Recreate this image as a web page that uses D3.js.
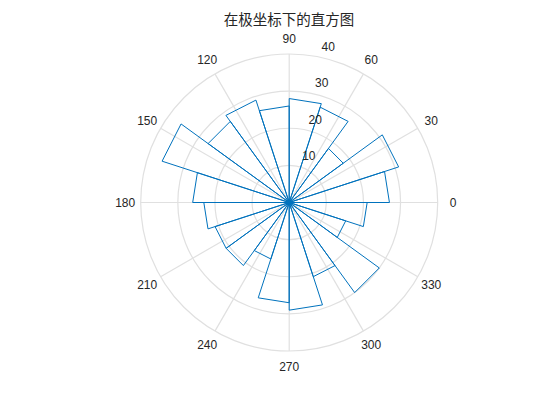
<!DOCTYPE html>
<html>
<head>
<meta charset="utf-8">
<script src="https://cdn.jsdelivr.net/npm/d3@7/dist/d3.min.js"></script>
<style>
  html, body { margin: 0; padding: 0; background: #ffffff; }
  svg { display: block; }
</style>
</head>
<body>
<svg id="chart" width="560" height="420"></svg>
<script>
// ---- data ----
const title = "在极坐标下的直方图";
const binCounts = [27, 31, 18, 27, 28, 26, 29, 27, 36, 26, 23, 21, 21, 16, 27, 29, 21, 30, 16, 21];
const binWidthDeg = 18;
const thetaTicks = [0, 30, 60, 90, 120, 150, 180, 210, 240, 270, 300, 330];
const thetaTickLabels = ["0", "30", "60", "90", "120", "150", "180", "210", "240", "270", "300", "330"];
const rTicks = [10, 20, 30, 40];
const rTickLabels = ["10", "20", "30", "40"];
const rMax = 40;

// ---- layout ----
const W = 560, H = 420;
const cx = 289.2, cy = 202.5, R = 148.5;
const textColor = "#262626";
const gridColor = "#e0e0e0";
const barColor = "#0072BD";

const svg = d3.select("#chart");
const rScale = d3.scaleLinear().domain([0, rMax]).range([0, R]);
const toRad = d => d * Math.PI / 180;
const px = (r, deg) => cx + r * Math.cos(toRad(deg));
const py = (r, deg) => cy - r * Math.sin(toRad(deg));

const g = svg.append("g");

// grid circles
g.selectAll("circle.grid").data(rTicks).enter().append("circle")
  .attr("class", "grid")
  .attr("cx", cx).attr("cy", cy)
  .attr("r", d => rScale(d))
  .attr("fill", "none")
  .attr("stroke", gridColor)
  .attr("stroke-width", 1.2);

// spokes
g.selectAll("line.spoke").data(thetaTicks).enter().append("line")
  .attr("class", "spoke")
  .attr("x1", cx).attr("y1", cy)
  .attr("x2", d => px(R, d)).attr("y2", d => py(R, d))
  .attr("stroke", gridColor)
  .attr("stroke-width", 1.2);

// histogram bars (stairs style)
const bins = binCounts.map((c, i) => ({ c, a0: i * binWidthDeg, a1: (i + 1) * binWidthDeg }));
g.selectAll("path.bar").data(bins).enter().append("path")
  .attr("class", "bar")
  .attr("d", d => {
    const r = rScale(d.c);
    return `M${cx},${cy}L${px(r, d.a0)},${py(r, d.a0)}L${px(r, d.a1)},${py(r, d.a1)}Z`;
  })
  .attr("fill", "none")
  .attr("stroke", barColor)
  .attr("stroke-width", 1)
  .attr("stroke-linejoin", "miter");

// center blob
g.append("circle").attr("cx", cx).attr("cy", cy).attr("r", 2.5).attr("fill", barColor);

// theta labels
const labelR = R + 15.5;
g.selectAll("text.theta").data(thetaTicks).enter().append("text")
  .attr("class", "theta")
  .attr("x", d => px(labelR, d))
  .attr("y", d => py(labelR, d))
  .attr("text-anchor", "middle")
  .attr("dominant-baseline", "central")
  .attr("font-family", "Liberation Sans, Arial, Helvetica, sans-serif")
  .attr("font-size", 12)
  .attr("fill", textColor)
  .text((d, i) => thetaTickLabels[i]);

// r labels at 80 degrees
const rAxisAngle = 80;
g.selectAll("text.rtick").data(rTicks).enter().append("text")
  .attr("class", "rtick")
  .attr("x", d => px(rScale(d), rAxisAngle) + 6.5)
  .attr("y", d => py(rScale(d), rAxisAngle) - 9.5)
  .attr("text-anchor", "start")
  .attr("dominant-baseline", "central")
  .attr("font-family", "Liberation Sans, Arial, Helvetica, sans-serif")
  .attr("font-size", 12)
  .attr("fill", textColor)
  .text((d, i) => rTickLabels[i]);

// title
svg.append("text")
  .attr("x", 289)
  .attr("y", 18.5)
  .attr("text-anchor", "middle")
  .attr("dominant-baseline", "central")
  .attr("font-family", "Noto Sans CJK SC, sans-serif")
  .attr("font-size", 14.5)
  .attr("fill", textColor)
  .text(title);
</script>
</body>
</html>
